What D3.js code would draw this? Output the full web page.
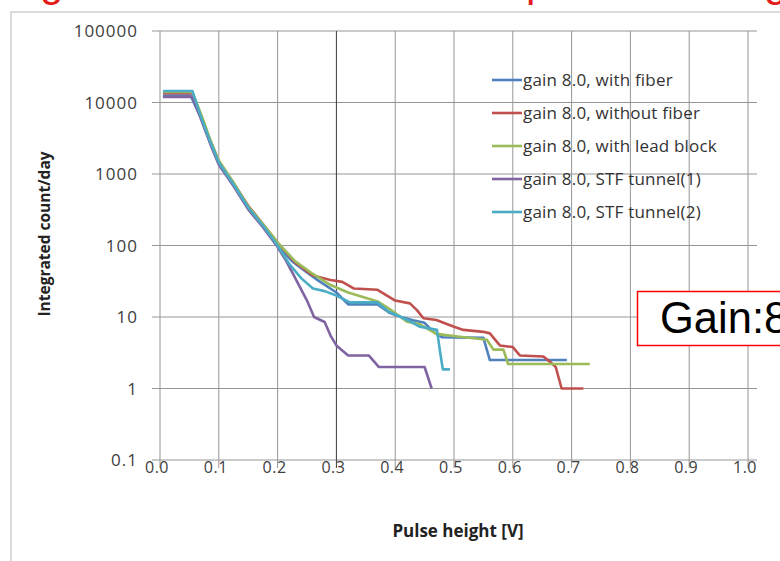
<!DOCTYPE html>
<html>
<head>
<meta charset="utf-8">
<script src="https://cdn.jsdelivr.net/npm/d3@7"></script>
<style>
  body { margin: 0; background: #fff; }
  svg text { font-family: "Open Sans", "Liberation Sans", sans-serif; }
</style>
</head>
<body>
<svg id="chart" width="780" height="561"></svg>
<script>
const xTicks = [0, 0.1, 0.2, 0.3, 0.4, 0.5, 0.6, 0.7, 0.8, 0.9, 1.0]
const yTicks = [0.1, 1, 10, 100, 1000, 10000, 100000]
const yTickLabels = ['0.1', '1', '10', '100', '1000', '10000', '100000']

const seriesNames = ['gain 8.0, with fiber', 'gain 8.0, without fiber', 'gain 8.0, with lead block',
    'gain 8.0, STF tunnel(1)', 'gain 8.0, STF tunnel(2)']
const seriesColors = ['#4f81bd', '#c0504d', '#9bbb59', '#8064a2', '#4bacc6']

const withFiberX = [0.005, 0.052, 0.07, 0.085, 0.1, 0.125, 0.15, 0.175, 0.2, 0.225, 0.25, 0.27, 0.3, 0.32, 0.37, 0.39, 0.41, 0.43, 0.45, 0.465, 0.48, 0.55, 0.561, 0.692]
const withFiberY = [12500, 12500, 6000, 2800, 1400, 700, 330, 190, 100, 60, 42, 32, 22, 15, 15, 11.5, 10, 9, 8.3, 6.2, 5.2, 5.1, 2.5, 2.5]

const withoutFiberX = [0.005, 0.055, 0.07, 0.085, 0.1, 0.125, 0.15, 0.175, 0.2, 0.23, 0.26, 0.29, 0.31, 0.33, 0.37, 0.4, 0.425, 0.437, 0.448, 0.47, 0.5, 0.516, 0.55, 0.561, 0.578, 0.6, 0.612, 0.652, 0.665, 0.673, 0.683, 0.72]
const withoutFiberY = [13500, 13500, 6500, 3000, 1500, 750, 360, 200, 110, 58, 38, 33, 31, 25, 24, 17, 15.5, 12.5, 9.6, 9.1, 7.3, 6.6, 6.2, 5.9, 4.0, 3.8, 2.9, 2.8, 2.3, 2.0, 1.0, 1.0]

const leadBlockX = [0.005, 0.055, 0.07, 0.085, 0.1, 0.125, 0.15, 0.175, 0.2, 0.23, 0.26, 0.29, 0.32, 0.345, 0.37, 0.39, 0.405, 0.42, 0.442, 0.47, 0.51, 0.556, 0.567, 0.584, 0.592, 0.731]
const leadBlockY = [14000, 14000, 6800, 3100, 1550, 760, 350, 200, 110, 60, 40, 28, 22, 19, 16.5, 13, 10.6, 8.6, 7.9, 5.8, 5.3, 4.8, 3.5, 3.5, 2.2, 2.2]

const tunnel1X = [0.005, 0.055, 0.07, 0.085, 0.1, 0.125, 0.15, 0.175, 0.2, 0.215, 0.23, 0.25, 0.262, 0.27, 0.28, 0.29, 0.3, 0.32, 0.355, 0.372, 0.45, 0.462]
const tunnel1Y = [12000, 12000, 5800, 2700, 1350, 680, 320, 180, 95, 60, 35, 17, 10, 9.3, 8.5, 5.5, 4, 2.9, 2.9, 2.0, 2.0, 1.0]

const tunnel2X = [0.005, 0.055, 0.07, 0.085, 0.1, 0.125, 0.15, 0.175, 0.2, 0.22, 0.24, 0.26, 0.28, 0.3, 0.323, 0.35, 0.37, 0.388, 0.41, 0.43, 0.442, 0.471, 0.476, 0.481, 0.493]
const tunnel2Y = [14500, 14500, 6200, 2900, 1450, 720, 340, 190, 100, 55, 35, 25, 23, 20, 16, 16, 16, 12, 10, 8.3, 7.3, 6.6, 3.4, 1.85, 1.85]

const allX = [withFiberX, withoutFiberX, leadBlockX, tunnel1X, tunnel2X]
const allY = [withFiberY, withoutFiberY, leadBlockY, tunnel1Y, tunnel2Y]

const svg = d3.select('#chart')

const xScale = d3.scaleLinear().domain([0, 1]).range([160, 748])
const yScale = d3.scaleLog().domain([0.1, 100000]).range([460, 31])

// slide title, only its bottom edge is on screen
svg.append('text')
    .attr('y', -4)
    .style('font-family', '"Liberation Sans", sans-serif')
    .style('font-size', '42px')
    .attr('fill', '#e31b1b')
    .call(t => t.append('tspan').attr('x', 40).text('g'))
    .call(t => t.append('tspan').attr('x', 526).text('p'))
    .call(t => t.append('tspan').attr('x', 764).text('g'))

// chart frame
svg.append('rect')
    .attr('x', 11).attr('y', 12)
    .attr('width', 800).attr('height', 600)
    .attr('fill', 'none')
    .attr('stroke', '#d0d0d0')
    .attr('stroke-width', 1.5)

// grid
svg.append('g')
    .selectAll('line')
    .data(yTicks)
    .join('line')
    .attr('x1', 152).attr('x2', 757)
    .attr('y1', d => yScale(d)).attr('y2', d => yScale(d))
    .attr('stroke', '#969696')
    .attr('stroke-width', 1)

svg.append('g')
    .selectAll('line')
    .data(xTicks)
    .join('line')
    .attr('x1', d => xScale(d)).attr('x2', d => xScale(d))
    .attr('y1', 31).attr('y2', 468)
    .attr('stroke', d => d === 0.3 ? '#3a3a3a' : '#969696')
    .attr('stroke-width', 1)

// tick labels
svg.append('g')
    .selectAll('text')
    .data(yTicks)
    .join('text')
    .text((d, i) => yTickLabels[i])
    .attr('x', 138)
    .attr('y', d => yScale(d) + 6)
    .attr('text-anchor', 'end')
    .attr('fill', '#404040')
    .style('font-size', '17px')
    .style('letter-spacing', '1px')

svg.append('g')
    .selectAll('text')
    .data(xTicks)
    .join('text')
    .text(d => d.toFixed(1))
    .attr('x', d => xScale(d) - 3)
    .attr('y', 473)
    .attr('text-anchor', 'middle')
    .attr('fill', '#404040')
    .style('font-size', '16px')
    .style('letter-spacing', '0.5px')

// axis titles
svg.append('text')
    .text('Integrated count/day')
    .attr('transform', 'translate(50,234) rotate(-90)')
    .attr('text-anchor', 'middle')
    .style('font-size', '15.5px')
    .style('font-weight', 'bold')
    .attr('fill', '#222')

svg.append('text')
    .text('Pulse height [V]')
    .attr('x', 458).attr('y', 537)
    .attr('text-anchor', 'middle')
    .style('font-size', '17px')
    .style('font-weight', 'bold')
    .attr('fill', '#222')

// series
const line = d3.line()
    .x(d => xScale(d[0]))
    .y(d => yScale(d[1]))

svg.append('g')
    .selectAll('path')
    .data(allX.map((xs, i) => xs.map((x, j) => [x, allY[i][j]])))
    .join('path')
    .attr('d', line)
    .attr('fill', 'none')
    .attr('stroke', (d, i) => seriesColors[i])
    .attr('stroke-width', 2.6)
    .attr('stroke-linejoin', 'round')

// legend
const legend = svg.append('g')
    .selectAll('g')
    .data(seriesNames)
    .join('g')
    .attr('transform', (d, i) => `translate(492,${80 + i * 33})`)

legend.append('line')
    .attr('x1', 0).attr('x2', 30)
    .attr('stroke', (d, i) => seriesColors[i])
    .attr('stroke-width', 2.6)

legend.append('text')
    .text(d => d)
    .attr('x', 31).attr('y', 6)
    .attr('fill', '#333')
    .style('font-size', '17px')
    .style('letter-spacing', '0.2px')

// annotation box
svg.append('rect')
    .attr('x', 637.5).attr('y', 291.5)
    .attr('width', 200).attr('height', 54)
    .attr('fill', '#fff')
    .attr('stroke', '#ff0000')
    .attr('stroke-width', 1.5)

svg.append('text')
    .text('Gain:8')
    .attr('x', 660).attr('y', 333)
    .style('font-family', '"Liberation Sans", Arial, sans-serif')
    .style('font-size', '43.5px')
    .attr('fill', '#000')
</script>
</body>
</html>
